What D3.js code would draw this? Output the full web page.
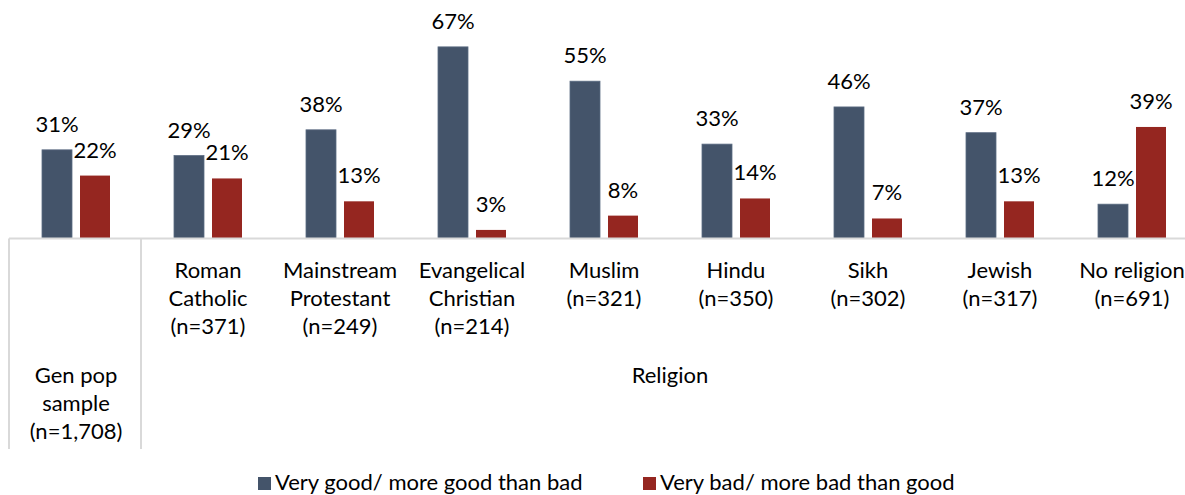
<!DOCTYPE html>
<html>
<head>
<meta charset="utf-8">
<script src="https://cdn.jsdelivr.net/npm/d3@7"></script>
<style>
  html, body { margin: 0; padding: 0; background: #fff; }
  svg text { font-family: Lato, "Open Sans", sans-serif; fill: #000; }
</style>
</head>
<body>
<svg id="chart" width="1185" height="495"></svg>
<script>
// Category labels (each entry is a list of lines) and survey results in percent
const categories = [
  ["Gen pop", "sample", "(n=1,708)"],
  ["Roman", "Catholic", "(n=371)"],
  ["Mainstream", "Protestant", "(n=249)"],
  ["Evangelical", "Christian", "(n=214)"],
  ["Muslim", "(n=321)"],
  ["Hindu", "(n=350)"],
  ["Sikh", "(n=302)"],
  ["Jewish", "(n=317)"],
  ["No religion", "(n=691)"]
];
const good = [31, 29, 38, 67, 55, 33, 46, 37, 12];
const bad  = [22, 21, 13, 3, 8, 14, 7, 13, 39];
const seriesNames = ["Very good/ more good than bad", "Very bad/ more bad than good"];
const groupLabel = "Religion";

const colors = ["#44546a", "#952620"];

const svg = d3.select("#chart");
const axisY = 238.5;
const left = 10, bandW = 132;
const fs = 22;

const keys = categories.map((c, i) => i);
const x = d3.scaleBand().domain(keys).range([left, left + bandW * keys.length]);
// two bars per category, 30px wide with an 8px gap
const xSub = d3.scaleBand().domain([0, 1]).range([32, 100]).paddingInner(8 / 38).paddingOuter(0);
const y = d3.scaleLinear().domain([0, 70]).range([axisY, axisY - 70 * 2.86]);

const series = [good, bad];

const g = svg.append("g");

series.forEach((vals, s) => {
  g.selectAll(null)
    .data(vals)
    .enter()
    .append("rect")
    .attr("x", (d, i) => x(i) + xSub(s))
    .attr("width", xSub.bandwidth())
    .attr("y", d => y(d))
    .attr("height", d => y(0) - y(d))
    .attr("fill", colors[s])
    .attr("stroke", s === 0 ? "#5b6b82" : "none")
    .attr("stroke-width", 0.8);

  g.selectAll(null)
    .data(vals)
    .enter()
    .append("text")
    .attr("x", (d, i) => x(i) + xSub(s) + xSub.bandwidth() / 2)
    .attr("y", d => y(d) - 18)
    .attr("text-anchor", "middle")
    .attr("font-size", fs)
    .text(d => d + "%");
});

// category axis line and group dividers
g.append("line")
  .attr("x1", left - 1).attr("x2", 1185)
  .attr("y1", axisY).attr("y2", axisY)
  .attr("stroke", "#d9d9d9").attr("stroke-width", 2);

[0, 1].forEach(i => {
  g.append("line")
    .attr("x1", x(i) - 1).attr("x2", x(i) - 1)
    .attr("y1", axisY).attr("y2", 449)
    .attr("stroke", "#d9d9d9").attr("stroke-width", 2);
});

// category labels
categories.forEach((lines, i) => {
  const top = i === 0 ? 383 : 278;
  const t = g.append("text")
    .attr("text-anchor", "middle")
    .attr("font-size", fs);
  lines.forEach((ln, k) => {
    t.append("tspan")
      .attr("x", x(i) + bandW / 2)
      .attr("y", top + k * 28)
      .text(ln);
  });
});

// group label for the religion categories
g.append("text")
  .attr("x", (x(1) + x(keys.length - 1) + bandW) / 2)
  .attr("y", 383)
  .attr("text-anchor", "middle")
  .attr("font-size", fs)
  .text(groupLabel);

// legend
const legendX = [258, 643];
seriesNames.forEach((name, s) => {
  const lg = svg.append("g").attr("transform", `translate(${legendX[s]},0)`);
  lg.append("rect").attr("x", 0).attr("y", 477).attr("width", 13).attr("height", 13).attr("fill", colors[s]);
  lg.append("text").attr("x", 17).attr("y", 490).attr("font-size", fs).text(name);
});
</script>
</body>
</html>
